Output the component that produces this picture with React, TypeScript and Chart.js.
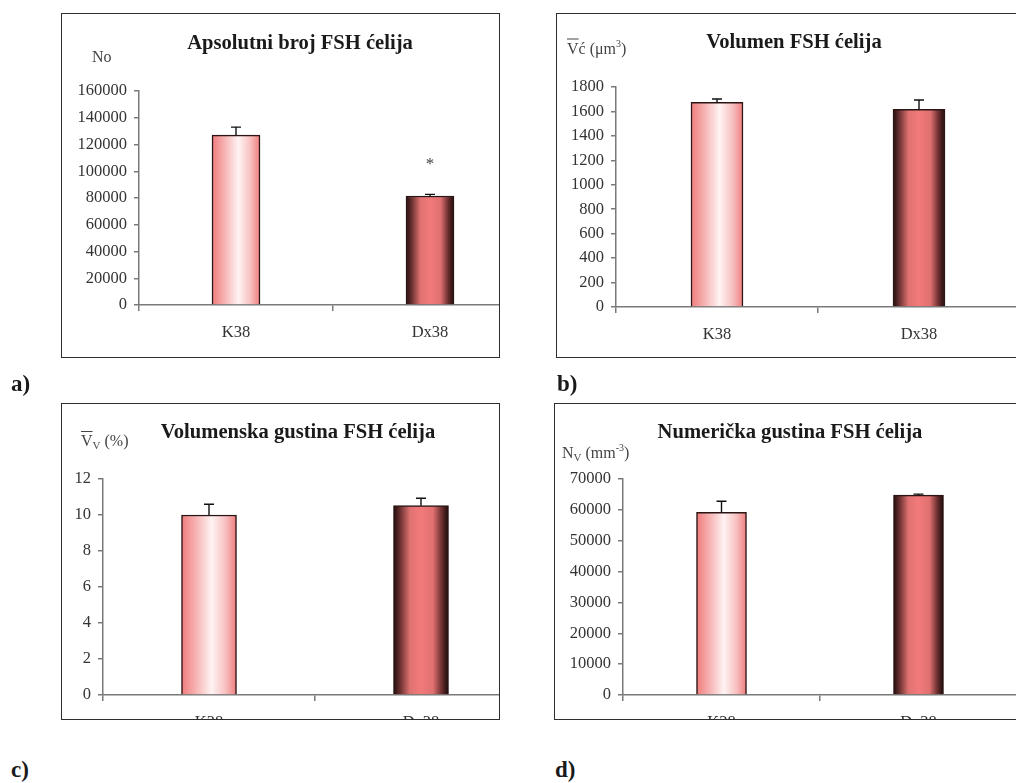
import React, { useEffect, useRef } from "react";
import { Chart, registerables } from "chart.js";

Chart.register(...registerables);

// ---------- data ----------
const categories = ["K38", "Dx38"];

const absoluteCount = [127000, 81500];
const absoluteCountErr = [6000, 1200];
const absoluteCountMarks = ["", "*"];
const absoluteCountAxis = [0, 160000, 20000]; // min, max, step

const cellVolume = [1675, 1617];
const cellVolumeErr = [27, 77];
const cellVolumeAxis = [0, 1800, 200];

const volumeDensity = [10.0, 10.52];
const volumeDensityErr = [0.6, 0.41];
const volumeDensityAxis = [0, 12, 2];

const numericalDensity = [59200, 64800];
const numericalDensityErr = [3600, 300];
const numericalDensityAxis = [0, 70000, 10000];

const barGradients: [number, string][][] = [
  [
    [0, "#f07c7c"],
    [0.25, "#f6b0b0"],
    [0.55, "#fff3f3"],
    [0.8, "#f8c0c0"],
    [1, "#ef7d7d"],
  ],
  [
    [0, "#1f0b0b"],
    [0.12, "#6a3030"],
    [0.3, "#e07272"],
    [0.5, "#f27a7a"],
    [0.72, "#e07070"],
    [0.88, "#6a2e2e"],
    [1, "#1a0808"],
  ],
];

const FONT = '"Liberation Serif", "Times New Roman", serif';
const AXIS_COLOR = "#7a7a7a";
const TEXT_COLOR = "#333333";

const errorBarPlugin = {
  id: "errorBars",
  afterDatasetsDraw(chart: any, _args: any, opts: any) {
    const errors: number[] = opts.errors || [];
    const marks: string[] = opts.marks || [];
    const meta = chart.getDatasetMeta(0);
    const yScale = chart.scales.y;
    const data = chart.data.datasets[0].data as number[];
    const ctx = chart.ctx;
    ctx.save();
    ctx.strokeStyle = "#111";
    ctx.lineWidth = 1.4;
    meta.data.forEach((bar: any, i: number) => {
      const v = data[i];
      const base = yScale.getPixelForValue(v);
      const top = yScale.getPixelForValue(v + (errors[i] || 0));
      ctx.beginPath();
      ctx.moveTo(bar.x, base);
      ctx.lineTo(bar.x, top);
      ctx.moveTo(bar.x - 5, top);
      ctx.lineTo(bar.x + 5, top);
      ctx.stroke();
      if (marks[i]) {
        ctx.fillStyle = "#444";
        ctx.font = `17px ${FONT}`;
        ctx.textAlign = "center";
        ctx.textBaseline = "middle";
        ctx.fillText(marks[i], bar.x, top - 30);
      }
    });
    ctx.restore();
  },
};

type Box = { x: number; y: number; w: number; h: number; noRight?: boolean };
type Area = { left: number; right: number; top: number; bottom: number };

function Panel(props: {
  values: number[];
  errors: number[];
  marks?: string[];
  axis: number[];
  box: Box;
  area: Area;
  barThickness: number;
}) {
  const ref = useRef<HTMLCanvasElement | null>(null);
  const { box, area } = props;
  const innerX = box.x + 1;
  const innerY = box.y + 1;
  const canvasW = area.right - innerX + 6;
  const canvasH = box.h - 2;
  const yWidth = area.left - innerX;
  const xHeight = canvasH - (area.bottom - innerY);

  useEffect(() => {
    if (!ref.current) return;
    const bt = props.barThickness;
    const chart = new Chart(ref.current, {
      type: "bar",
      data: {
        labels: categories,
        datasets: [
          {
            data: props.values,
            barThickness: bt,
            borderWidth: 1.5,
            borderColor: "#2a1414",
            borderSkipped: "bottom",
            backgroundColor: (c: any) => {
              const ch = c.chart;
              const xs = ch.scales && ch.scales.x;
              if (!xs || c.dataIndex === undefined) return "#f08080";
              const cx = xs.getPixelForValue(c.dataIndex);
              if (!isFinite(cx)) return "#f08080";
              const g = ch.ctx.createLinearGradient(cx - bt / 2, 0, cx + bt / 2, 0);
              barGradients[c.dataIndex % barGradients.length].forEach(([o, col]) =>
                g.addColorStop(o, col)
              );
              return g;
            },
          },
        ],
      },
      options: {
        responsive: false,
        maintainAspectRatio: false,
        animation: false,
        layout: {
          padding: { left: 0, right: 6, top: area.top - innerY, bottom: 0 },
        },
        plugins: {
          legend: { display: false },
          title: { display: false },
          tooltip: { enabled: false },
          errorBars: { errors: props.errors, marks: props.marks || [] },
        } as any,
        scales: {
          x: {
            type: "category",
            offset: true,
            grid: {
              display: true,
              offset: true,
              drawOnChartArea: false,
              drawTicks: true,
              tickLength: 6,
              color: AXIS_COLOR,
              lineWidth: 1.5,
            },
            border: { display: true, color: AXIS_COLOR, width: 1.5 },
            ticks: {
              font: { family: FONT, size: 16.5 },
              color: TEXT_COLOR,
              padding: 12,
              maxRotation: 0,
            },
            afterFit: (s: any) => {
              s.height = xHeight;
            },
          },
          y: {
            min: props.axis[0],
            max: props.axis[1],
            ticks: {
              stepSize: props.axis[2],
              font: { family: FONT, size: 16.5 },
              color: TEXT_COLOR,
              padding: 7,
              callback: (v: any) => String(v),
            },
            grid: {
              display: true,
              drawOnChartArea: false,
              drawTicks: true,
              tickLength: 5,
              color: AXIS_COLOR,
              lineWidth: 1.5,
            },
            border: { display: true, color: AXIS_COLOR, width: 1.5 },
            afterFit: (s: any) => {
              s.width = yWidth;
            },
          },
        },
      },
      plugins: [errorBarPlugin],
    } as any);
    return () => chart.destroy();
  }, []);

  return (
    <div
      style={{
        position: "absolute",
        left: box.x,
        top: box.y,
        width: box.w,
        height: box.h,
        boxSizing: "border-box",
        border: "1px solid #2e2e2e",
        borderRight: box.noRight ? "none" : "1px solid #2e2e2e",
        overflow: "hidden",
      }}
    >
      <canvas
        ref={ref}
        width={canvasW}
        height={canvasH}
        style={{ position: "absolute", left: 0, top: 0, width: canvasW, height: canvasH }}
      />
    </div>
  );
}

const titleStyle = (cx: number, cy: number): React.CSSProperties => ({
  position: "absolute",
  left: cx,
  top: cy,
  transform: "translate(-50%, -50%)",
  fontFamily: FONT,
  fontWeight: "bold",
  fontSize: 20.6,
  color: "#1a1a1a",
  whiteSpace: "nowrap",
});

const unitStyle = (x: number, cy: number): React.CSSProperties => ({
  position: "absolute",
  left: x,
  top: cy,
  transform: "translateY(-50%)",
  fontFamily: FONT,
  fontSize: 16,
  color: "#444",
  whiteSpace: "nowrap",
  lineHeight: "20px",
});

const letterStyle = (x: number, cy: number): React.CSSProperties => ({
  position: "absolute",
  left: x,
  top: cy,
  transform: "translateY(-50%)",
  fontFamily: FONT,
  fontWeight: "bold",
  fontSize: 23,
  color: "#1a1a1a",
});

const sup: React.CSSProperties = { fontSize: 10, verticalAlign: "7px" };
const sub: React.CSSProperties = { fontSize: 11, verticalAlign: "-3px" };
const over: React.CSSProperties = { textDecoration: "overline" };

export default function App() {
  return (
    <div
      style={{
        position: "absolute",
        left: 0,
        top: 0,
        width: 1016,
        height: 783,
        overflow: "hidden",
        background: "#fff",
      }}
    >
      <Panel
        values={absoluteCount}
        errors={absoluteCountErr}
        marks={absoluteCountMarks}
        axis={absoluteCountAxis}
        box={{ x: 61, y: 13, w: 439, h: 345 }}
        area={{ left: 139, right: 527, top: 91, bottom: 305 }}
        barThickness={48}
      />
      <Panel
        values={cellVolume}
        errors={cellVolumeErr}
        axis={cellVolumeAxis}
        box={{ x: 556, y: 13, w: 460, h: 345, noRight: true }}
        area={{ left: 616, right: 1020, top: 87, bottom: 307 }}
        barThickness={52}
      />
      <Panel
        values={volumeDensity}
        errors={volumeDensityErr}
        axis={volumeDensityAxis}
        box={{ x: 61, y: 403, w: 439, h: 317 }}
        area={{ left: 103, right: 527, top: 479, bottom: 695 }}
        barThickness={55}
      />
      <Panel
        values={numericalDensity}
        errors={numericalDensityErr}
        axis={numericalDensityAxis}
        box={{ x: 554, y: 403, w: 462, h: 317, noRight: true }}
        area={{ left: 623, right: 1017, top: 479, bottom: 695 }}
        barThickness={50}
      />

      <div style={titleStyle(300, 42)}>Apsolutni broj FSH ćelija</div>
      <div style={titleStyle(794, 41)}>Volumen FSH ćelija</div>
      <div style={titleStyle(298, 431)}>Volumenska gustina FSH ćelija</div>
      <div style={titleStyle(790, 431)}>Numerička gustina FSH ćelija</div>

      <div style={unitStyle(92, 57)}>No</div>
      <div style={unitStyle(567, 46)}>
        <span style={over}>V</span>ć (μm<span style={sup}>3</span>)
      </div>
      <div style={unitStyle(81, 443)}>
        <span style={over}>V</span>
        <span style={sub}>V</span> (%)
      </div>
      <div style={unitStyle(562, 452)}>
        N<span style={sub}>V</span> (mm<span style={sup}>-3</span>)
      </div>

      <div style={letterStyle(11, 384)}>a)</div>
      <div style={letterStyle(557, 384)}>b)</div>
      <div style={letterStyle(11, 770)}>c)</div>
      <div style={letterStyle(555, 770)}>d)</div>
    </div>
  );
}
